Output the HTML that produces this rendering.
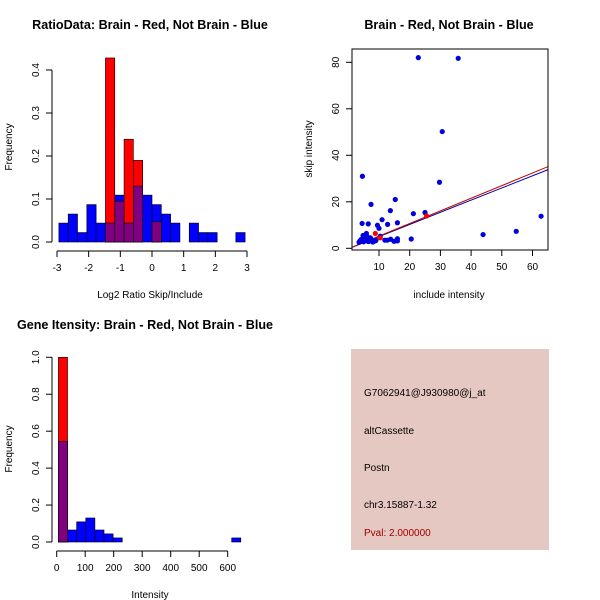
<!DOCTYPE html>
<html><head><meta charset="utf-8"><style>
body{margin:0;background:#fff}
svg{display:block;font-family:"Liberation Sans",sans-serif}
</style></head><body>
<svg id="s" width="600" height="600" xmlns="http://www.w3.org/2000/svg">
<rect width="600" height="600" fill="#fff"/>
<text x="150" y="29" font-size="12.6" font-weight="bold" text-anchor="middle">RatioData: Brain - Red, Not Brain - Blue</text>
<text x="449" y="29" font-size="12.6" font-weight="bold" text-anchor="middle">Brain - Red, Not Brain - Blue</text>
<text x="145" y="329" font-size="12.6" font-weight="bold" text-anchor="middle">Gene Itensity: Brain - Red, Not Brain - Blue</text>
<text x="150" y="298" font-size="10" text-anchor="middle">Log2 Ratio Skip/Include</text>
<text x="12" y="147" font-size="10" text-anchor="middle" transform="rotate(-90 12 147)">Frequency</text>
<text x="449" y="298" font-size="10" text-anchor="middle">include intensity</text>
<text x="312" y="149" font-size="10" text-anchor="middle" transform="rotate(-90 312 149)">skip intensity</text>
<text x="150" y="598" font-size="10" text-anchor="middle">Intensity</text>
<text x="12" y="449" font-size="10" text-anchor="middle" transform="rotate(-90 12 449)">Frequency</text>
<g>
<rect x="351" y="349" width="198" height="201" fill="#e6c8c2"/>
<text x="364" y="396" font-size="10">G7062941@J930980@j_at</text>
<text x="364" y="434" font-size="10">altCassette</text>
<text x="364" y="471" font-size="10">Postn</text>
<text x="364" y="508" font-size="10">chr3.15887-1.32</text>
<text x="364" y="536" font-size="10" fill="#a00000">Pval: 2.000000</text>
</g>
</svg>
<script>
// Ratio histogram data
const ratioStart = -2.94;
const ratioBinWidth = 0.294;
const ratioBlue = [0.044,0.065,0.022,0.087,0.044,0.044,0.109,0.044,0.13,0.109,0.087,0.065,0.044,0,0.044,0.022,0.022,0,0,0.022];
const ratioRed = [0,0,0,0,0,0.428,0.095,0.239,0.19,0,0.047,0,0,0,0,0,0,0,0,0];
const ratioXTicks = [-3,-2,-1,0,1,2,3];
const ratioYTicks = [0,0.1,0.2,0.3,0.4];
// Intensity histogram data
const intStart = 6;
const intBinWidth = 32;
const intBlue = [0.545,0.065,0.109,0.13,0.065,0.044,0.022,0,0,0,0,0,0,0,0,0,0,0,0,0.022];
const intRed = [1.0,0,0,0,0,0,0,0,0,0,0,0,0,0,0,0,0,0,0,0];
const intXTicks = [0,100,200,300,400,500,600];
const intYTicks = [0,0.2,0.4,0.6,0.8,1.0];
// Scatter data
const blueX = [22.8,35.8,30.6,29.7,4.6,15.3,7.4,13.7,21.2,25,16,11,12.8,9.5,6.5,4.5,10,62.8,43.9,54.7,20.5,3.8,5.4,5.9,11.9,12.7,13.8,14.9,16,16,10.4,8.7,7.7,4.2,5,6.2,6.8,7.2,8,9,3.5,4.8,5.6,6.5];
const blueY = [82,81.7,50.2,28.4,31,21,18.9,16.2,14.9,15.4,11,12.3,10.3,9.9,10.5,10.7,8.6,13.8,5.9,7.3,4,3.2,4.3,6.4,3.5,3.5,3.9,3,3.2,4.1,5.2,3.2,3.6,3.8,2.8,5,3,4.5,2.7,3.4,2.6,5.5,3.9,2.9];
const redX = [8.8,25.5,10.4];
const redY = [6.4,13.9,4.5];
const redLine = [-0.2,0.543];
const blueLine = [-0.2,0.523];
const scXTicks = [10,20,30,40,50,60];
const scYTicks = [0,20,40,60,80];

const NS="http://www.w3.org/2000/svg";
const svg=document.getElementById('s');
function mk(tag,attrs,parent){const e=document.createElementNS(NS,tag);for(const k in attrs)e.setAttribute(k,attrs[k]);(parent||svg).appendChild(e);return e;}

function hist(name,start,bw,blue,red,xs,ys,xTicks,yTicks,xAxisY,yAxisX,xFmt){
  const g=mk('g',{});
  
  
  function bars(vals,color,cls){
    vals.forEach((v,i)=>{ if(v<=0) return;
      const x0=xs(start+i*bw), x1=xs(start+(i+1)*bw);
      const r=mk('rect',{x:x0,y:ys(v),width:x1-x0,height:ys(0)-ys(v),fill:color,stroke:'#000','stroke-width':0.6},g);
      
      
    });
  }
  bars(blue,'#0000ff','blue');
  bars(red,'#ff0000','red');
  bars(blue.map((b,i)=>Math.min(b,red[i])),'#800080','overlap');
  mk('line',{x1:xs(xTicks[0]),x2:xs(xTicks[xTicks.length-1]),y1:xAxisY,y2:xAxisY,stroke:'#000'},g);
  xTicks.forEach(t=>{mk('line',{x1:xs(t),x2:xs(t),y1:xAxisY,y2:xAxisY+6,stroke:'#000'},g);
    const tx=mk('text',{x:xs(t),y:xAxisY+20,'font-size':10,'text-anchor':'middle'},g);tx.textContent=xFmt(t);});
  mk('line',{x1:yAxisX,x2:yAxisX,y1:ys(yTicks[0]),y2:ys(yTicks[yTicks.length-1]),stroke:'#000'},g);
  yTicks.forEach(t=>{mk('line',{x1:yAxisX-6,x2:yAxisX,y1:ys(t),y2:ys(t),stroke:'#000'},g);
    const lx=yAxisX-13;
    const tx=mk('text',{x:lx,y:ys(t),'font-size':10,'text-anchor':'middle',transform:`rotate(-90 ${lx} ${ys(t)})`},g);tx.textContent=t.toFixed(1);});
}
hist('ratio-histogram',ratioStart,ratioBinWidth,ratioBlue,ratioRed,v=>152+v*31.67,v=>242-v*430,ratioXTicks,ratioYTicks,251,52,t=>String(t));
hist('intensity-histogram',intStart,intBinWidth,intBlue,intRed,v=>56.7+v*0.285,v=>542-v*184.7,intXTicks,intYTicks,551,52,t=>String(t));

// scatter
const sx=v=>348.3+v*3.07, sy=v=>248.3-v*2.325;
const sg=mk('g',{});


mk('clipPath',{id:'cp'},sg);
mk('rect',{x:352,y:49,width:196,height:201},document.getElementById('cp'));
const lg=mk('g',{'clip-path':'url(#cp)'},sg);
[[blueLine,'#0000a0','blue-fit-line'],[redLine,'#c00000','red-fit-line']].forEach(([c,col,n])=>{
  const l=mk('line',{x1:sx(0),y1:sy(c[0]),x2:sx(70),y2:sy(c[0]+c[1]*70),stroke:col,'stroke-width':1},lg);
  
  
});
blueX.forEach((x,i)=>{const p=mk('circle',{cx:sx(x),cy:sy(blueY[i]),r:2.6,fill:'#0000dd'},lg);
  
  });
redX.forEach((x,i)=>{const p=mk('circle',{cx:sx(x),cy:sy(redY[i]),r:2.6,fill:'#ff0000'},lg);
  
  });
mk('rect',{x:352,y:49,width:196,height:201,fill:'none',stroke:'#000'},sg);
scXTicks.forEach(t=>{mk('line',{x1:sx(t),x2:sx(t),y1:250,y2:256,stroke:'#000'},sg);
  const tx=mk('text',{x:sx(t),y:270,'font-size':10,'text-anchor':'middle'},sg);tx.textContent=t;});
scYTicks.forEach(t=>{mk('line',{x1:346,x2:352,y1:sy(t),y2:sy(t),stroke:'#000'},sg);
  const tx=mk('text',{x:339,y:sy(t),'font-size':10,'text-anchor':'middle',transform:`rotate(-90 339 ${sy(t)})`},sg);tx.textContent=t;});
</script>
</body></html>
